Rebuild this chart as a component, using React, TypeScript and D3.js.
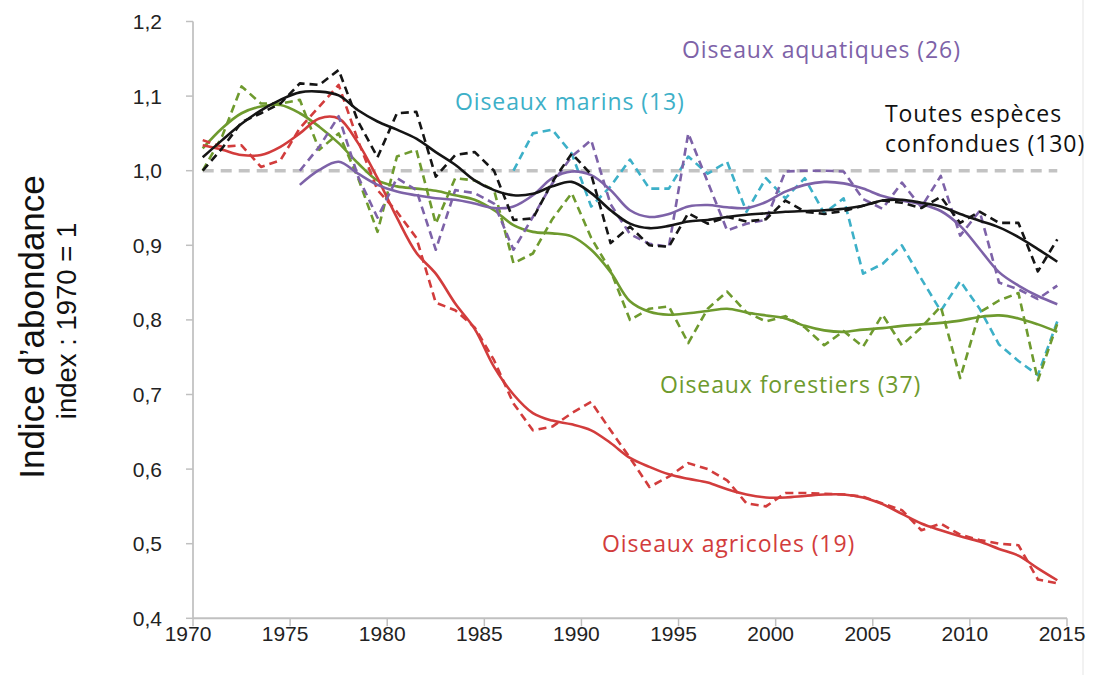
import React from 'react';
import * as d3 from 'd3';

// ---------- DATA ----------
const FIRST_YEAR = 1970; // annual values 1970 … 2014
const xTickYears = [1970, 1975, 1980, 1985, 1990, 1995, 2000, 2005, 2010, 2015];
const yTickValues = [0.4, 0.5, 0.6, 0.7, 0.8, 0.9, 1.0, 1.1, 1.2];
const referenceLevel = 1.0;

// Toutes espèces confondues (130)
const toutesAnnual = [
  1.0, 1.03, 1.065, 1.077, 1.09, 1.117, 1.115, 1.135, 1.066, 1.018,
  1.077, 1.079, 0.992, 1.021, 1.025, 1.0, 0.934, 0.936, 0.985, 1.023,
  0.995, 0.903, 0.925, 0.9, 0.898, 0.943, 0.929, 0.938, 0.932, 0.935,
  0.96, 0.945, 0.942, 0.946, 0.953, 0.96, 0.957, 0.95, 0.965, 0.93,
  0.945, 0.93, 0.93, 0.865, 0.908,
];
const toutesTrend = [
  1.018, 1.041, 1.063, 1.081, 1.095, 1.105, 1.106, 1.101, 1.081, 1.066,
  1.055, 1.043, 1.025, 1.008, 0.987, 0.974, 0.967, 0.969, 0.979, 0.985,
  0.97, 0.947, 0.929, 0.923, 0.926, 0.932, 0.934, 0.938, 0.941, 0.943,
  0.945, 0.946, 0.947, 0.949, 0.953, 0.96, 0.961, 0.957, 0.952, 0.942,
  0.933, 0.924, 0.911, 0.895, 0.878,
];

// Oiseaux aquatiques (26) — from 1975
const aquatiquesAnnual = [
  null, null, null, null, null, 1.0, 1.032, 1.073, 0.992, 0.937,
  0.99, 0.974, 0.894, 0.974, 0.97, 0.956, 0.894, 0.938, 0.983, 1.019,
  1.041, 0.955, 0.915, 0.902, 0.898, 1.05, 0.985, 0.92, 0.929, 0.934,
  0.999, 1.0, 1.0, 0.999, 0.962, 0.949, 0.984, 0.951, 0.993, 0.913,
  0.946, 0.85, 0.841, 0.828, 0.846,
];
const aquatiquesTrend = [
  null, null, null, null, null, 0.981, 1.001, 1.012, 0.996, 0.981,
  0.972, 0.967, 0.963, 0.961, 0.956, 0.95, 0.952, 0.967, 0.99, 0.999,
  0.994, 0.974, 0.947, 0.938, 0.942, 0.952, 0.954, 0.951, 0.95, 0.958,
  0.972, 0.981, 0.985, 0.983, 0.976, 0.966, 0.96, 0.955, 0.946, 0.926,
  0.895, 0.864, 0.846, 0.832, 0.821,
];

// Oiseaux marins (13) — from 1986
const marinsAnnual = [
  null, null, null, null, null, null, null, null, null, null,
  null, null, null, null, null, null, 1.0, 1.05, 1.055, 1.023,
  0.952, 0.979, 1.015, 0.976, 0.976, 1.019, 0.996, 1.012, 0.945, 0.99,
  0.963, 0.99, 0.943, 0.963, 0.862, 0.875, 0.9, 0.855, 0.812, 0.852,
  0.815, 0.767, 0.745, 0.726, 0.798,
];

// Oiseaux forestiers (37)
const forestiersAnnual = [
  1.0, 1.046, 1.113, 1.09, 1.09, 1.095, 1.028, 1.05, 0.99, 0.918,
  1.019, 1.028, 0.929, 0.99, 0.987, 0.974, 0.876, 0.889, 0.935, 0.97,
  0.91, 0.866, 0.8, 0.815, 0.818, 0.769, 0.815, 0.838, 0.81, 0.798,
  0.805, 0.79, 0.766, 0.785, 0.764, 0.807, 0.766, 0.79, 0.818, 0.722,
  0.81, 0.826, 0.836, 0.719, 0.795,
];
const forestiersTrend = [
  1.03, 1.057, 1.077, 1.086, 1.088, 1.077, 1.059, 1.037, 1.01, 0.987,
  0.979, 0.976, 0.973, 0.967, 0.961, 0.947, 0.927, 0.918, 0.916, 0.912,
  0.894, 0.864, 0.825, 0.811, 0.807, 0.809, 0.812, 0.815, 0.81, 0.806,
  0.802, 0.792, 0.786, 0.784, 0.787, 0.789, 0.792, 0.794, 0.796, 0.799,
  0.804, 0.806, 0.802, 0.794, 0.784,
];

// Oiseaux agricoles (19)
const agricolesAnnual = [
  1.041, 1.032, 1.034, 1.005, 1.014, 1.057, 1.086, 1.115, 1.04, 0.974,
  0.945, 0.91, 0.823, 0.813, 0.79, 0.746, 0.688, 0.652, 0.657, 0.675,
  0.69, 0.652, 0.615, 0.576, 0.59, 0.608, 0.6, 0.585, 0.554, 0.55,
  0.568, 0.568, 0.567, 0.566, 0.563, 0.554, 0.545, 0.518, 0.527, 0.512,
  0.505, 0.5, 0.498, 0.452, 0.447,
];
const agricolesTrend = [
  1.034, 1.028, 1.021, 1.021, 1.032, 1.05, 1.07, 1.07, 1.037, 0.99,
  0.937, 0.89, 0.862, 0.822, 0.788, 0.737, 0.7, 0.675, 0.665, 0.66,
  0.652, 0.635, 0.615, 0.603, 0.593, 0.587, 0.582, 0.573, 0.566, 0.562,
  0.562, 0.564, 0.566, 0.566, 0.562, 0.553, 0.54, 0.527, 0.518, 0.51,
  0.503, 0.493, 0.484, 0.467, 0.451,
];

const seriesLabels = [
  'Oiseaux aquatiques (26)',
  'Oiseaux marins (13)',
  'Toutes espèces',
  'confondues (130)',
  'Oiseaux forestiers (37)',
  'Oiseaux agricoles (19)',
];

// ---------- STYLE ----------
const C_BLACK = '#151515';
const C_PURPLE = '#7d62a8';
const C_TEAL = '#3db0c8';
const C_GREEN = '#6e9a2e';
const C_RED = '#d23c3c';

const W = 1096;
const H = 675;

const x = d3.scaleLinear().domain([1970, 2015]).range([193, 1067]);
const y = d3.scaleLinear().domain([0.4, 1.2]).range([618.3, 21.5]);

type V = number | null;
const xPos = (i: number) => x(FIRST_YEAR + i + 0.5);

const dashedLine = d3
  .line<V>()
  .defined((v) => v != null)
  .x((_, i) => xPos(i))
  .y((v) => y(v as number));

const trendLine = d3
  .line<V>()
  .defined((v) => v != null)
  .x((_, i) => xPos(i))
  .y((v) => y(v as number))
  .curve(d3.curveCatmullRom.alpha(0.5));

const layers = [
  { data: marinsAnnual, color: C_TEAL, dashed: true },
  { data: forestiersAnnual, color: C_GREEN, dashed: true },
  { data: forestiersTrend, color: C_GREEN, dashed: false },
  { data: agricolesAnnual, color: C_RED, dashed: true },
  { data: agricolesTrend, color: C_RED, dashed: false },
  { data: aquatiquesAnnual, color: C_PURPLE, dashed: true },
  { data: aquatiquesTrend, color: C_PURPLE, dashed: false },
  { data: toutesAnnual, color: C_BLACK, dashed: true },
  { data: toutesTrend, color: C_BLACK, dashed: false },
];

const labelPlacement = [
  { color: C_PURPLE, x: 682, y: 49 },
  { color: C_TEAL, x: 455, y: 101 },
  { color: '#111', x: 885, y: 113 },
  { color: '#111', x: 885, y: 143 },
  { color: C_GREEN, x: 660, y: 384 },
  { color: C_RED, x: 602, y: 543 },
];

const fmt = (v: number) => v.toFixed(1).replace('.', ',');

export default function App() {
  const refY = y(referenceLevel);
  return (
    <svg
      width={W}
      height={H}
      viewBox={`0 0 ${W} ${H}`}
      style={{ position: 'absolute', left: 0, top: 0, background: '#fff' }}
    >
      <rect x={0} y={0} width={W} height={H} fill="#fff" />
      {/* faint frame on the right */}
      <line x1={1083} x2={1083} y1={0} y2={H} stroke="#eeeeee" strokeWidth={1.5} />

      {/* axes */}
      <line x1={x(1970)} x2={x(1970)} y1={y(1.2)} y2={y(0.4)} stroke="#c8c8c8" strokeWidth={2} />
      <line x1={x(1970)} x2={x(2015)} y1={y(0.4)} y2={y(0.4)} stroke="#c0c0c0" strokeWidth={2} />
      {yTickValues.map((v) => (
        <g key={v}>
          <line x1={x(1970) - 7} x2={x(1970)} y1={y(v)} y2={y(v)} stroke="#c0c0c0" strokeWidth={1.5} />
          <text
            x={162}
            y={y(v)}
            textAnchor="end"
            dominantBaseline="central"
            fontFamily="'Liberation Sans', Arial, sans-serif"
            fontSize={21}
            fill="#222"
          >
            {fmt(v)}
          </text>
        </g>
      ))}
      {xTickYears.map((yr) => (
        <g key={yr}>
          <line x1={x(yr)} x2={x(yr)} y1={y(0.4)} y2={y(0.4) + 8} stroke="#c0c0c0" strokeWidth={1.5} />
          <text
            x={x(yr) - 5}
            y={641}
            textAnchor="middle"
            fontFamily="'Liberation Sans', Arial, sans-serif"
            fontSize={21}
            fill="#222"
          >
            {yr}
          </text>
        </g>
      ))}

      {/* axis title */}
      <text
        transform={`translate(44, 327) rotate(-90)`}
        textAnchor="middle"
        fontFamily="'Liberation Sans', Arial, sans-serif"
        fontSize={35}
        fill="#111"
      >
        Indice d’abondance
      </text>
      <text
        transform={`translate(76, 321) rotate(-90)`}
        textAnchor="middle"
        fontFamily="'Liberation Sans', Arial, sans-serif"
        fontSize={27.5}
        fill="#111"
      >
        index : 1970 = 1
      </text>

      {/* reference line 1,0 */}
      <line
        x1={xPos(0)}
        x2={xPos(44)}
        y1={refY}
        y2={refY}
        stroke="#c3c3c3"
        strokeWidth={3.5}
        strokeDasharray="11 7"
      />

      {layers.map((l, k) => (
        <path
          key={k}
          d={(l.dashed ? dashedLine : trendLine)(l.data as V[]) || ''}
          fill="none"
          stroke={l.color}
          strokeWidth={2.6}
          strokeDasharray={l.dashed ? '8 5' : undefined}
          strokeLinejoin="round"
        />
      ))}

      {seriesLabels.map((t, k) => (
        <text
          key={t}
          x={labelPlacement[k].x}
          y={labelPlacement[k].y}
          dominantBaseline="central"
          fontFamily="'Open Sans', 'Noto Sans', sans-serif"
          fontSize={23}
          letterSpacing={0.9}
          fill={labelPlacement[k].color}
        >
          {t}
        </text>
      ))}
    </svg>
  );
}
